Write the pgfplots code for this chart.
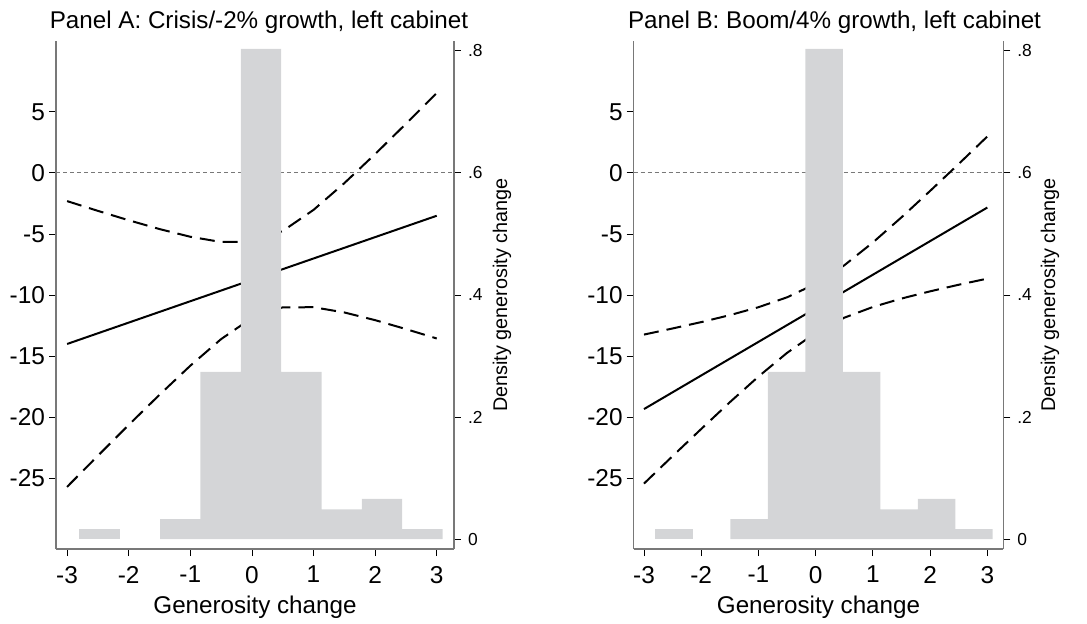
\documentclass[border=0pt]{standalone}
\usepackage{fontspec}
\setmainfont{Liberation Sans}
\usepackage{pgfplots}
\pgfplotsset{compat=1.18}
\definecolor{histgray}{RGB}{212,213,215}
\definecolor{axgray}{RGB}{120,120,120}

% histogram of generosity change (same in both panels); bin -2.145..-1.49 is empty
\pgfplotstableread{
x d
-2.800 0.0165
-2.145 0.0165
}\histleft
\pgfplotstableread{
x d
-1.490 0.033
-0.835 0.274
-0.180 0.803
0.475 0.274
1.130 0.049
1.785 0.066
2.440 0.0165
3.095 0.0165
}\histmain

% marginal effect and 95% CI, panel A
\pgfplotstableread{
x b up lo
-3 -14.01 -2.31 -25.71
-2.5 -13.135 -3.11 -23.16
-2 -12.26 -3.88 -20.64
-1.5 -11.385 -4.60 -18.17
-1 -10.51 -5.23 -15.79
-0.5 -9.635 -5.66 -13.61
0 -8.76 -5.64 -11.88
0.5 -7.885 -4.76 -11.01
1 -7.01 -3.03 -11.00
1.5 -6.135 -0.84 -11.43
2 -5.26 1.54 -12.06
2.5 -4.385 4.02 -12.79
3 -3.51 6.54 -13.56
}\panela

% panel B
\pgfplotstableread{
x b up lo
-3 -19.34 -13.24 -25.44
-2.5 -17.965 -12.74 -23.19
-2 -16.59 -12.22 -20.97
-1.5 -15.215 -11.65 -18.78
-1 -13.84 -11.00 -16.68
-0.5 -12.465 -10.19 -14.74
0 -11.09 -9.08 -13.10
0.5 -9.715 -7.57 -11.86
1 -8.34 -5.70 -10.98
1.5 -6.965 -3.64 -10.29
2 -5.59 -1.48 -9.70
2.5 -4.215 0.73 -9.16
3 -2.84 2.98 -8.66
}\panelb

\pgfplotsset{
  every axis title shift=0pt,
  common/.style={
    scale only axis, height=254pt,
    xmin=-3.18, xmax=3.28,
    tick align=outside, major tick length=3.5pt,
    tick style={black, line width=0.4pt},
    axis line style={axgray, line width=0.6pt},
  },
  leftax/.style={
    common,
    ymin=-30.8, ymax=10.8,
    axis y line*=left, axis x line*=bottom,
    xtick={-3,-2,-1,0,1,2,3},
    xticklabels={-3,-2,-1,0,1,2,3},
    ytick={-25,-20,-15,-10,-5,0,5},
    yticklabels={-25,-20,-15,-10,-5,0,5},
    ticklabel style={font=\fontsize{12.2}{14}\selectfont},
    xticklabel style={yshift=-1.5pt},
    yticklabel style={xshift=1.5pt},
    xlabel={Generosity change},
    xlabel style={font=\fontsize{12.1}{14}\selectfont, at={(axis description cs:0.5,0)}, anchor=base, yshift=-32pt},
    title style={font=\fontsize{12.1}{14}\selectfont, at={(axis description cs:0.5,1)}, anchor=base, yshift=6.35pt},
  },
  rightax/.style={
    common,
    ymin=-0.016, ymax=0.816,
    axis y line*=right, axis x line=none,
    ytick={0,0.2,0.4,0.6,0.8},
    yticklabels={0,.2,.4,.6,.8},
    yticklabel style={font=\fontsize{8.7}{10}\selectfont},
    ylabel={Density generosity change},
    ylabel style={font=\fontsize{9.9}{12}\selectfont, anchor=center},
  },
  ci/.style={black, line width=1pt, dash pattern=on 7.5pt off 4pt},
  est/.style={black, line width=1pt},
  zero/.style={axgray, line width=0.5pt, dash pattern=on 2pt off 1.5pt},
  hist/.style={ybar interval, fill=histgray, draw=none},
}

\begin{document}
\begin{tikzpicture}
\useasboundingbox (0,0) rectangle (543.5pt,311.5pt);

% Panel A
\begin{axis}[leftax, width=199pt, at={(28pt,37pt)}, anchor=south west,
  title={Panel A: Crisis/-2\% growth, left cabinet}, title style={xshift=2pt}]
\addplot[zero] coordinates {(-3.18,0) (3.28,0)};
\addplot[ci] table[x=x, y=up] {\panela};
\addplot[ci] table[x=x, y=lo] {\panela};
\addplot[est] table[x=x, y=b] {\panela};
\end{axis}
\begin{axis}[rightax, width=199pt, at={(28pt,37pt)}, anchor=south west,
  ylabel style={at={(axis description cs:1.1206,0.5)}}]
\addplot[hist] table[x=x, y=d] {\histleft};
\addplot[hist] table[x=x, y=d] {\histmain};
\end{axis}

% Panel B
\begin{axis}[leftax, width=184.8pt, at={(316.85pt,37pt)}, anchor=south west,
  title={Panel B: Boom/4\% growth, left cabinet}, title style={xshift=8pt}]
\addplot[zero] coordinates {(-3.18,0) (3.28,0)};
\addplot[ci] table[x=x, y=up] {\panelb};
\addplot[ci] table[x=x, y=lo] {\panelb};
\addplot[est] table[x=x, y=b] {\panelb};
\end{axis}
\begin{axis}[rightax, width=184.8pt, at={(316.85pt,37pt)}, anchor=south west,
  ylabel style={at={(axis description cs:1.1266,0.5)}}]
\addplot[hist] table[x=x, y=d] {\histleft};
\addplot[hist] table[x=x, y=d] {\histmain};
\end{axis}
\end{tikzpicture}
\end{document}
